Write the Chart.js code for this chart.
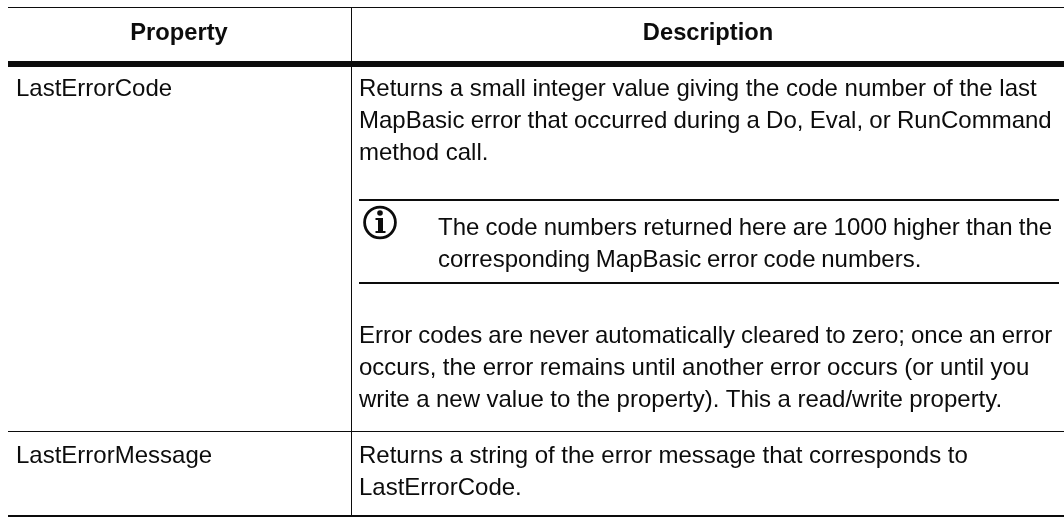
<!DOCTYPE html>
<html><head><meta charset="utf-8"><title>Property table</title>
<style>html,body{margin:0;padding:0;background:#fff;overflow:hidden}canvas{display:block}</style>
<script src="https://cdn.jsdelivr.net/npm/chart.js@4/dist/chart.umd.min.js"></script>
</head><body><canvas id="c" width="1064" height="517"></canvas>
<script>
const headers = ["Property", "Description"];
const properties = ["LastErrorCode", "LastErrorMessage"];
const errorCodeIntro = [
  "Returns a small integer value giving the code number of the last",
  "MapBasic error that occurred during a Do, Eval, or RunCommand",
  "method call."];
const errorCodeNote = [
  "The code numbers returned here are 1000 higher than the",
  "corresponding MapBasic error code numbers."];
const errorCodeOutro = [
  "Error codes are never automatically cleared to zero; once an error",
  "occurs, the error remains until another error occurs (or until you",
  "write a new value to the property). This a read/write property."];
const errorMessageText = [
  "Returns a string of the error message that corresponds to",
  "LastErrorCode."];

const INK = "#0c0c0c", FONT = '"Liberation Sans", Arial, sans-serif', SIZE = 24, HEAD_SIZE = 23.7;

const tablePlugin = {
  id: "table",
  afterDraw(chart) {
    const g = chart.ctx;
    const rect = (x, y, w, h) => g.fillRect(x, y, w, h);
    const lines = (arr, x, y0, spacing) => arr.forEach((t, i) => {
      g.wordSpacing = (spacing ? spacing[i] : 0) + "px";
      g.fillText(t, x, y0 + i * 32);
    });
    g.save();
    g.fillStyle = INK; g.strokeStyle = INK;
    // rules
    rect(8, 7, 1056, 1);
    rect(8, 61, 1056, 6);
    rect(8, 431, 1056, 1);
    rect(8, 515, 1056, 2);
    rect(351, 7, 1, 509);
    rect(359, 199, 700, 2);
    rect(359, 282, 700, 2);
    // header
    g.textBaseline = "alphabetic";
    g.font = `bold ${HEAD_SIZE}px ${FONT}`;
    g.textAlign = "center";
    g.fillText(headers[0], 179, 40);
    g.fillText(headers[1], 708, 40);
    // body
    g.font = `${SIZE}px ${FONT}`;
    g.textAlign = "left";
    g.fillText(properties[0], 16, 96);
    g.fillText(properties[1], 16, 463);
    lines(errorCodeIntro, 359, 96, [0, -0.4, 0]);
    lines(errorCodeNote, 438, 235, [-0.55, -0.9]);
    lines(errorCodeOutro, 359, 343, [-0.7, -0.2, -0.2]);
    lines(errorMessageText, 359, 463, [-0.1, 0]);
    // info icon
    g.wordSpacing = "0px";
    g.lineWidth = 2.8;
    g.beginPath(); g.arc(380, 222.5, 15.4, 0, Math.PI * 2); g.stroke();
    g.beginPath(); g.arc(380, 213, 2.8, 0, Math.PI * 2); g.fill();
    rect(378, 218, 5, 14);
    rect(375.5, 218, 3, 2);
    rect(375.5, 231, 10, 2);
    g.restore();
  }
};

new Chart(document.getElementById("c"), {
  type: "bar",
  data: { labels: properties, datasets: [{ label: headers[1], data: [] }] },
  options: {
    responsive: false, animation: false,
    layout: { padding: 0 },
    plugins: { legend: { display: false }, tooltip: { enabled: false } },
    scales: { x: { display: false }, y: { display: false } }
  },
  plugins: [tablePlugin]
});
</script></body></html>
